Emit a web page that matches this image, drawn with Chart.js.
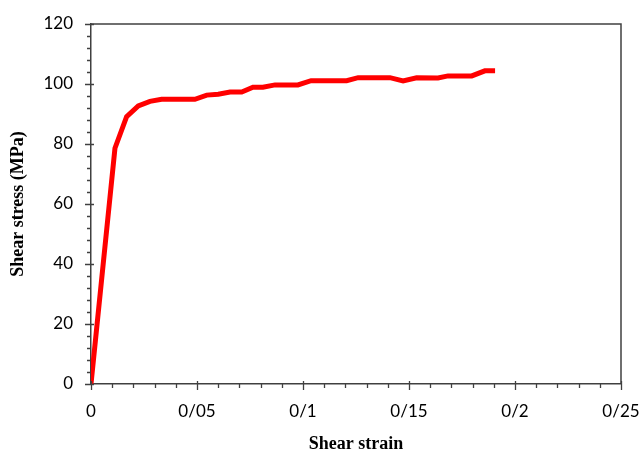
<!DOCTYPE html>
<html>
<head>
<meta charset="utf-8">
<script src="https://cdn.jsdelivr.net/npm/chart.js@4.4.0/dist/chart.umd.min.js"></script>
<style>
  html, body { margin: 0; padding: 0; background: #fff; }
  #wrap { width: 641px; height: 453px; }
</style>
</head>
<body>
<div id="wrap"><canvas id="chart" width="641" height="453"></canvas></div>
<script>
// Shear stress vs shear strain
const strain = [0, 0.0113, 0.0168, 0.0223, 0.0278, 0.0333, 0.0490, 0.0546, 0.0600, 0.0656, 0.0711, 0.0764, 0.0811, 0.0868, 0.0976, 0.1038, 0.1206, 0.1260, 0.1410, 0.1472, 0.1536, 0.1637, 0.1684, 0.1796, 0.1858, 0.1906];
const stress = [0, 78.6, 89.1, 92.7, 94.2, 94.9, 94.9, 96.3, 96.6, 97.3, 97.3, 98.9, 98.9, 99.7, 99.7, 101.1, 101.1, 102.1, 102.1, 101.0, 102.1, 102.0, 102.7, 102.7, 104.4, 104.4];

const xTicks = [0, 0.05, 0.1, 0.15, 0.2, 0.25];
const xTickLabels = ['0', '0/05', '0/1', '0/15', '0/2', '0/25'];
const yTicks = [0, 20, 40, 60, 80, 100, 120];
const xMinorStep = 0.01;
const yMinorStep = 4;

const axisColor = '#404040';

// minor/major tick marks + frame on top and right
const ticksPlugin = {
  id: 'excelTicks',
  afterDraw(chart) {
    const { ctx, chartArea: a, scales: { x, y } } = chart;
    ctx.save();
    ctx.strokeStyle = axisColor;
    ctx.lineWidth = 1.5;
    ctx.beginPath();
    ctx.moveTo(a.left, a.top); ctx.lineTo(a.right, a.top); ctx.lineTo(a.right, a.bottom);
    ctx.stroke();
    ctx.lineWidth = 1.3;
    ctx.beginPath();
    for (let i = 0; i <= Math.round(0.25 / xMinorStep); i++) {
      const v = i * xMinorStep;
      const px = Math.round(x.getPixelForValue(v)) + 0.5;
      const major = i % 5 === 0;
      ctx.moveTo(px, a.bottom - (major ? 3 : 0));
      ctx.lineTo(px, a.bottom + (major ? 6 : 4));
    }
    for (let i = 0; i <= 120 / yMinorStep; i++) {
      const v = i * yMinorStep;
      const py = Math.round(y.getPixelForValue(v)) + 0.5;
      const major = i % 5 === 0;
      ctx.moveTo(a.left + (major ? 3 : 0), py);
      ctx.lineTo(a.left - (major ? 6 : 4), py);
    }
    ctx.stroke();
    ctx.restore();
  }
};

new Chart(document.getElementById('chart'), {
  type: 'line',
  data: {
    datasets: [{
      data: strain.map((s, i) => ({ x: s, y: stress[i] })),
      borderColor: '#ff0000',
      borderWidth: 5,
      pointRadius: 0,
      tension: 0,
      fill: false
    }]
  },
  options: {
    responsive: false,
    animation: false,
    layout: { padding: { left: 0, right: 20, top: 24, bottom: 0 } },
    plugins: { legend: { display: false }, tooltip: { enabled: false } },
    scales: {
      x: {
        type: 'linear',
        min: 0, max: 0.25,
        afterBuildTicks: (s) => { s.ticks = xTicks.map(v => ({ value: v })); },
        afterFit: (s) => { s.height = 69; s.paddingLeft = 0; s.paddingRight = 0; },
        grid: { display: true, drawOnChartArea: false, drawTicks: false },
        border: { display: true, color: axisColor, width: 1.5 },
        ticks: {
          padding: 17,
          color: '#000',
          font: { family: 'Lato', size: 17 },
          maxRotation: 0,
          callback: (v) => { const i = xTicks.findIndex(t => Math.abs(t - v) < 1e-9); return i >= 0 ? xTickLabels[i] : ''; }
        },
        title: {
          display: true,
          text: 'Shear strain',
          color: '#000',
          font: { family: 'Liberation Serif', size: 18, weight: 'bold', lineHeight: 1 },
          padding: { top: 0, bottom: 0 }
        }
      },
      y: {
        min: 0, max: 120,
        afterBuildTicks: (s) => { s.ticks = yTicks.map(v => ({ value: v })); },
        afterFit: (s) => { s.width = 91; s.paddingTop = 0; s.paddingBottom = 0; },
        grid: { display: true, drawOnChartArea: false, drawTicks: false },
        border: { display: true, color: axisColor, width: 1.5 },
        ticks: {
          padding: 18,
          color: '#000',
          font: { family: 'Lato', size: 17 }
        },
        title: {
          display: true,
          text: 'Shear stress (MPa)',
          color: '#000',
          font: { family: 'Liberation Serif', size: 18, weight: 'bold', lineHeight: 1 },
          padding: { top: 9, bottom: 0 }
        }
      }
    }
  },
  plugins: [ticksPlugin]
});
</script>
</body>
</html>
